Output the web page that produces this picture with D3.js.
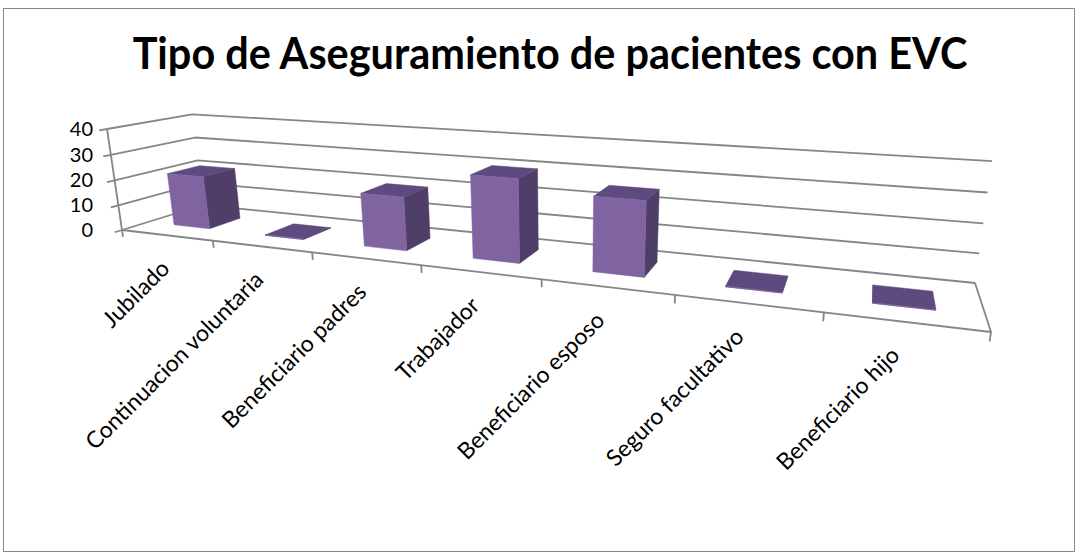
<!DOCTYPE html>
<html>
<head>
<meta charset="utf-8">
<script src="https://cdn.jsdelivr.net/npm/d3@7"></script>
<style>
  html, body { margin: 0; padding: 0; background: #ffffff; }
  svg { display: block; }
</style>
</head>
<body>
<svg id="chart" width="1078" height="556"></svg>
<script>
// ---- data ----
const categories = [
  "Jubilado",
  "Continuacion voluntaria",
  "Beneficiario padres",
  "Trabajador",
  "Beneficiario esposo",
  "Seguro facultativo",
  "Beneficiario hijo"
];
const counts = [21, 0, 20, 30, 26, 0, 0];
const valueTicks = [0, 10, 20, 30, 40];
const chartTitle = "Tipo de Aseguramiento de pacientes con EVC";

// ---- 3D frame placement on the page (perspective box) ----
// floor corners: front-left, front-right, back-right, back-left
const floorCorners = [[122, 230], [991, 332], [975, 283], [203, 205]];
const wallTopFrontLeft = [107, 129];   // top of the value axis
const wallTopBackRight = [992, 161];   // top of the back wall, right end

const colors = {
  front: "#8064a2",
  side: "#4f3f68",
  top: "#5e4a7e",
  grid: "#868686",
  text: "#000000",
  border: "#868686"
};
const fontFamily = "Lato, 'Open Sans', sans-serif";

// Square -> quad homography for the floor (u along categories, w along depth)
function squareToQuad(q) {
  const [[x0, y0], [x1, y1], [x2, y2], [x3, y3]] = q;
  const dx1 = x1 - x2, dx2 = x3 - x2, dx3 = x0 - x1 + x2 - x3;
  const dy1 = y1 - y2, dy2 = y3 - y2, dy3 = y0 - y1 + y2 - y3;
  const den = dx1 * dy2 - dx2 * dy1;
  const g = (dx3 * dy2 - dx2 * dy3) / den;
  const h = (dx1 * dy3 - dx3 * dy1) / den;
  return {
    a: x1 - x0 + g * x1, b: x3 - x0 + h * x3, c: x0,
    d: y1 - y0 + g * y1, e: y3 - y0 + h * y3, f: y0,
    g: g, h: h
  };
}
const H = squareToQuad(floorCorners);

// Vertical column of the projective matrix, from the two wall-top anchors
const A = wallTopFrontLeft, B = wallTopBackRight;
const S = { x: H.a + H.b + H.c, y: H.d + H.e + H.f, w: H.g + H.h + 1 };
const kx = A[0] - B[0], rx = B[0] * S.w - A[0] + H.c - S.x;
const ky = A[1] - B[1], ry = B[1] * S.w - A[1] + H.f - S.y;
const pc = (kx * rx + ky * ry) / (kx * kx + ky * ky);
const pa = A[0] * (pc + 1) - H.c;
const pb = A[1] * (pc + 1) - H.f;

// u: category axis fraction, v: value fraction, w: depth fraction
function project(u, v, w) {
  const X = H.a * u + H.b * w + H.c + pa * v;
  const Y = H.d * u + H.e * w + H.f + pb * v;
  const W = H.g * u + H.h * w + 1 + pc * v;
  return [X / W, Y / W];
}

// ---- scales ----
const xSlot = d3.scaleBand().domain(categories).range([0, 1]);
const xBar = d3.scaleBand().domain(categories).range([0, 1])
  .paddingInner(0.6).paddingOuter(0.3);
const yScale = d3.scaleLinear().domain([0, 40]).range([0, 1]);
const zBar = [0.3, 0.7];

const svg = d3.select("#chart");
const line = d3.line();

// chart area border
svg.append("rect")
  .attr("x", 3.5).attr("y", 8.5)
  .attr("width", 1071).attr("height", 543)
  .attr("fill", "#ffffff")
  .attr("stroke", colors.border).attr("stroke-width", 1);

// title: bold face, squeezed to its line width
const titleWidth = 835;
const titleG = svg.append("g");
const title = titleG.append("text")
  .attr("x", 0).attr("y", 0)
  .attr("text-anchor", "middle")
  .attr("font-family", fontFamily)
  .attr("font-weight", "bold")
  .attr("font-size", 43)
  .attr("fill", colors.text)
  .text(chartTitle);
const tw = title.node().getComputedTextLength();
titleG.attr("transform", `translate(550,69) scale(${titleWidth / tw},1)`);

// ---- walls: gridlines on side and back walls ----
const gGrid = svg.append("g")
  .attr("fill", "none")
  .attr("stroke", colors.grid)
  .attr("stroke-width", 1.8)
  .attr("stroke-linejoin", "round");

valueTicks.forEach(t => {
  const v = yScale(t);
  gGrid.append("path")
    .attr("d", line([project(0, v, 0), project(0, v, 1), project(1, v, 1)]));
});

// floor outline: front edge (category axis) and right edge
gGrid.append("path")
  .attr("d", line([project(0, 0, 0), project(1, 0, 0), project(1, 0, 1)]));

// value axis line and ticks
gGrid.append("path")
  .attr("d", line([project(0, 0, 0), project(0, 1, 0)]));
valueTicks.forEach(t => {
  const v = yScale(t);
  gGrid.append("path")
    .attr("d", line([project(0, v, 0), project(0, v, -0.08)]));
});

// category ticks at slot boundaries
const boundaries = categories.map(c => xSlot(c)).concat([1]);
boundaries.forEach(u => {
  gGrid.append("path")
    .attr("d", line([project(u, 0, 0), project(u, yScale(-2.8), 0)]));
});

// value labels
const labelX = project(0, 1, 0)[0] - 14;
svg.append("g")
  .selectAll("text")
  .data(valueTicks)
  .join("text")
  .attr("x", labelX)
  .attr("y", d => project(0, yScale(d), 0)[1])
  .attr("dy", "0.35em")
  .attr("text-anchor", "end")
  .attr("font-family", fontFamily)
  .attr("font-size", 20)
  .attr("fill", colors.text)
  .text(d => d);

// category labels, rotated, hung below the axis along the local vertical
const labelDrop = 35;
svg.append("g")
  .selectAll("text")
  .data(categories)
  .join("text")
  .attr("transform", d => {
    const u = xSlot(d) + xSlot.bandwidth() / 2;
    const p = project(u, 0, 0);
    const q = project(u, yScale(-1), 0);
    const len = Math.hypot(q[0] - p[0], q[1] - p[1]);
    const ax = p[0] + (q[0] - p[0]) / len * labelDrop;
    const ay = p[1] + (q[1] - p[1]) / len * labelDrop;
    return `translate(${ax},${ay}) rotate(-45)`;
  })
  .attr("text-anchor", "end")
  .attr("font-family", fontFamily)
  .attr("font-size", 23)
  .attr("fill", colors.text)
  .text(d => d);

// ---- bars ----
const gBars = svg.append("g");
const poly = pts => "M" + pts.map(p => p.join(",")).join("L") + "Z";

categories.forEach((c, i) => {
  const x0 = xBar(c), x1 = x0 + xBar.bandwidth();
  const v0 = 0, v1 = yScale(counts[i]);
  const [z0, z1] = zBar;

  const front = [project(x0, v0, z0), project(x1, v0, z0), project(x1, v1, z0), project(x0, v1, z0)];
  const right = [project(x1, v0, z0), project(x1, v0, z1), project(x1, v1, z1), project(x1, v1, z0)];
  const left = [project(x0, v0, z0), project(x0, v0, z1), project(x0, v1, z1), project(x0, v1, z0)];
  const top = [project(x0, v1, z0), project(x1, v1, z0), project(x1, v1, z1), project(x0, v1, z1)];

  const g = gBars.append("g");
  const rightVisible = right[1][0] > right[0][0];
  g.append("path").attr("d", poly(rightVisible ? right : left))
    .attr("fill", colors.side).attr("stroke", colors.side).attr("stroke-width", 0.5);
  g.append("path").attr("d", poly(top))
    .attr("fill", colors.top).attr("stroke", colors.top).attr("stroke-width", 0.5);
  g.append("path").attr("d", poly(front))
    .attr("fill", colors.front).attr("stroke", colors.front).attr("stroke-width", counts[i] === 0 ? 1.4 : 0.5);
});
</script>
</body>
</html>
